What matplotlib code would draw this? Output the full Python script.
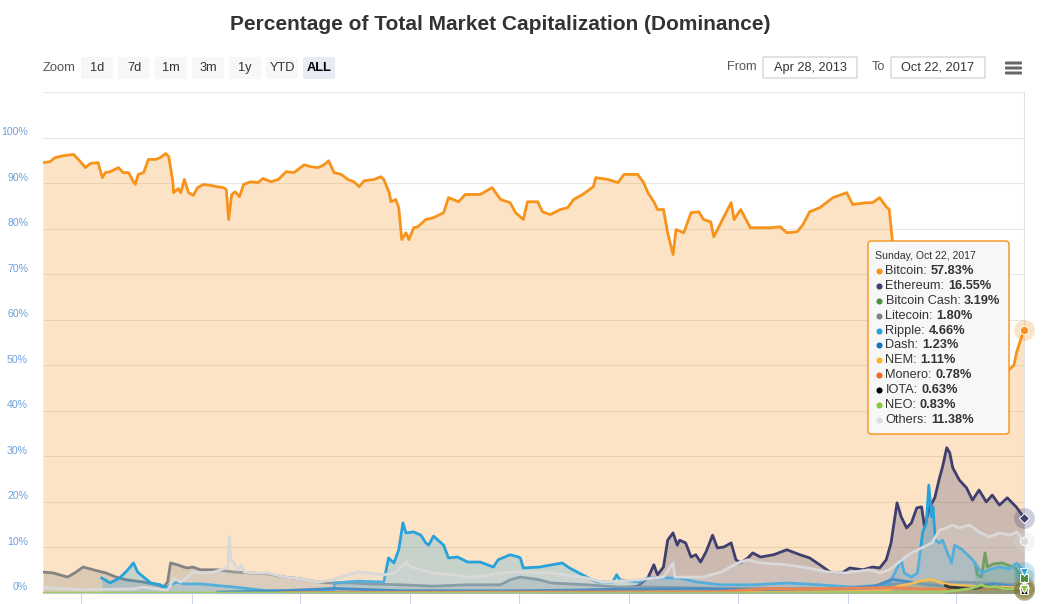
import matplotlib
matplotlib.use('Agg')
import matplotlib.pyplot as plt
import matplotlib.transforms as mtransforms
from matplotlib.patches import FancyBboxPatch
from matplotlib.lines import Line2D
import pandas as pd

plt.rcParams['font.family'] = ['Liberation Sans', 'DejaVu Sans']

# ---------------- data ----------------
btc_dates = ['2013-04-28', '2013-05-10', '2013-05-18', '2013-06-01', '2013-06-18', '2013-06-26', '2013-07-08',
             '2013-07-16', '2013-07-29', '2013-08-05', '2013-08-10', '2013-08-18', '2013-09-01', '2013-09-09',
             '2013-09-18', '2013-09-24', '2013-09-29', '2013-10-04', '2013-10-13', '2013-10-21', '2013-11-02',
             '2013-11-10', '2013-11-19', '2013-11-24', '2013-12-01', '2013-12-02', '2013-12-10', '2013-12-14',
             '2013-12-20', '2013-12-27', '2014-01-04', '2014-01-11', '2014-01-21', '2014-02-02', '2014-02-13',
             '2014-02-23', '2014-02-28', '2014-03-04', '2014-03-09', '2014-03-15', '2014-03-22', '2014-03-29',
             '2014-04-10', '2014-04-22', '2014-04-30', '2014-05-14', '2014-05-26', '2014-06-08', '2014-06-21',
             '2014-07-08', '2014-07-19', '2014-07-31', '2014-08-10', '2014-08-18', '2014-08-27', '2014-09-08',
             '2014-09-19', '2014-09-29', '2014-10-08', '2014-10-16', '2014-11-02', '2014-11-13', '2014-11-18',
             '2014-11-27', '2014-11-30', '2014-12-08', '2014-12-13', '2014-12-18', '2014-12-25', '2014-12-30',
             '2015-01-07', '2015-01-14', '2015-01-27', '2015-02-09', '2015-02-26', '2015-03-06', '2015-03-23',
             '2015-04-03', '2015-04-28', '2015-05-18', '2015-06-01', '2015-06-17', '2015-06-26', '2015-07-09',
             '2015-07-16', '2015-08-02', '2015-08-10', '2015-08-23', '2015-09-09', '2015-09-21', '2015-10-01',
             '2015-10-16', '2015-11-03', '2015-11-07', '2015-11-27', '2015-12-14', '2015-12-24', '2016-01-16',
             '2016-01-26', '2016-02-02', '2016-02-12', '2016-02-18', '2016-02-28', '2016-03-06', '2016-03-15',
             '2016-03-20', '2016-04-02', '2016-04-14', '2016-04-27', '2016-05-05', '2016-05-17', '2016-05-22',
             '2016-06-03', '2016-06-20', '2016-06-25', '2016-07-06', '2016-07-22', '2016-08-08', '2016-08-24',
             '2016-09-10', '2016-09-21', '2016-10-08', '2016-10-18', '2016-10-29', '2016-11-15', '2016-12-07',
             '2016-12-30', '2017-01-09', '2017-02-01', '2017-02-11', '2017-02-23', '2017-03-06', '2017-03-11',
             '2017-03-16', '2017-03-22', '2017-03-30', '2017-04-10', '2017-04-23', '2017-05-01', '2017-05-10',
             '2017-05-17', '2017-05-25', '2017-06-02', '2017-06-12', '2017-06-17', '2017-07-01', '2017-07-09',
             '2017-07-19', '2017-07-28', '2017-08-05', '2017-08-17', '2017-08-25', '2017-09-03', '2017-09-11',
             '2017-09-19', '2017-09-27', '2017-10-05', '2017-10-10', '2017-10-15', '2017-10-22']
btc_vals = [94.5, 94.7, 95.6, 96.0, 96.3, 95.2, 93.4,
            94.3, 94.5, 91.2, 92.3, 92.5, 93.4, 92.3,
            92.3, 90.8, 89.7, 91.9, 92.3, 95.2, 95.2,
            95.6, 96.5, 95.8, 90.1, 87.9, 88.8, 87.9,
            90.8, 87.9, 87.3, 89.0, 89.7, 89.5, 89.2,
            89.0, 88.6, 82.0, 87.5, 88.1, 87.0, 89.7,
            90.3, 90.1, 91.0, 90.3, 90.8, 92.5, 92.3,
            94.0, 93.6, 93.4, 94.0, 94.9, 92.3, 91.9,
            90.8, 90.3, 89.2, 90.5, 90.8, 91.4, 90.8,
            87.9, 85.9, 86.4, 84.6, 77.6, 79.1, 77.6,
            80.2, 80.4, 82.0, 82.4, 83.5, 86.8, 85.9,
            87.5, 87.5, 89.0, 86.4, 85.7, 83.5, 82.0,
            85.9, 85.9, 83.7, 83.1, 84.2, 84.6, 86.4,
            87.5, 89.2, 91.2, 90.8, 90.1, 91.9, 91.9,
            90.1, 87.9, 85.9, 84.2, 84.2, 79.1, 74.3,
            79.8, 79.1, 83.5, 83.7, 82.0, 81.5, 78.2,
            81.3, 85.7, 82.0, 84.2, 80.2, 80.2, 80.2,
            80.4, 79.1, 79.3, 80.9, 83.7, 84.6, 86.8,
            87.9, 85.3, 85.7, 85.7, 86.8, 84.8, 84.2,
            77.6, 70.0, 67.0, 66.0, 62.0, 58.0, 52.0,
            47.0, 46.0, 45.0, 42.0, 39.0, 43.0, 45.0,
            48.0, 50.0, 46.0, 46.0, 44.0, 47.0, 47.0,
            48.0, 49.0, 50.0, 53.0, 55.0, 57.83]

eth_dates = ['2015-08-07', '2015-10-01', '2015-12-01', '2016-01-16', '2016-02-02', '2016-02-12', '2016-02-18',
             '2016-02-28', '2016-03-06', '2016-03-15', '2016-03-22', '2016-03-26', '2016-04-05', '2016-04-14',
             '2016-04-22', '2016-04-30', '2016-05-09', '2016-05-20', '2016-05-28', '2016-06-08', '2016-06-20',
             '2016-06-28', '2016-07-06', '2016-07-18', '2016-07-26', '2016-08-08', '2016-08-30', '2016-09-21',
             '2016-10-13', '2016-10-29', '2016-11-15', '2016-12-02', '2016-12-22', '2017-01-04', '2017-01-26',
             '2017-02-11', '2017-02-23', '2017-03-06', '2017-03-14', '2017-03-19', '2017-03-24', '2017-03-31',
             '2017-04-09', '2017-04-17', '2017-04-26', '2017-05-04', '2017-05-09', '2017-05-17', '2017-05-26',
             '2017-06-03', '2017-06-08', '2017-06-15', '2017-06-20', '2017-06-25', '2017-07-06', '2017-07-18',
             '2017-07-28', '2017-08-08', '2017-08-20', '2017-08-30', '2017-09-11', '2017-09-24', '2017-10-09',
             '2017-10-22']
eth_vals = [0.2, 0.5, 0.8, 1.5, 3.3, 6.2, 4.0,
            5.7, 11.6, 13.2, 10.5, 11.6, 11.0, 7.9,
            8.4, 6.8, 9.0, 12.7, 9.9, 10.1, 11.0,
            7.3, 6.6, 7.7, 8.8, 7.9, 8.4, 9.5,
            8.4, 7.7, 6.2, 4.6, 4.4, 5.5, 5.1,
            5.7, 5.5, 7.3, 11.0, 15.4, 19.8, 16.7,
            14.3, 15.4, 18.7, 18.9, 14.5, 18.7, 20.9,
            25.3, 27.7, 31.9, 30.8, 27.5, 24.8, 23.1,
            20.4, 22.6, 20.0, 21.5, 19.3, 20.9, 18.9,
            16.55]

bch_dates = ['2017-08-01', '2017-08-05', '2017-08-12', '2017-08-18', '2017-08-22', '2017-09-01', '2017-09-15',
             '2017-09-28', '2017-10-08', '2017-10-15', '2017-10-22']
bch_vals = [6.6, 4.0, 3.5, 8.8, 5.7, 6.4, 6.6, 6.0, 5.5, 3.8, 3.19]

ltc_dates = ['2013-04-28', '2013-05-15', '2013-06-08', '2013-06-20', '2013-07-04', '2013-07-21', '2013-08-11',
             '2013-08-28', '2013-09-14', '2013-10-13', '2013-11-05', '2013-11-15', '2013-11-22', '2013-11-27',
             '2013-12-08', '2013-12-19', '2013-12-25', '2014-01-03', '2014-01-16', '2014-02-13', '2014-03-13',
             '2014-04-11', '2014-05-09', '2014-06-05', '2014-07-03', '2014-07-31', '2014-08-21', '2014-09-25',
             '2014-10-23', '2014-12-17', '2015-02-09', '2015-04-07', '2015-06-01', '2015-06-17', '2015-07-04',
             '2015-08-05', '2015-08-25', '2015-10-23', '2015-12-17', '2016-02-12', '2016-06-01', '2016-09-21',
             '2017-01-09', '2017-03-06', '2017-04-21', '2017-06-25', '2017-08-20', '2017-10-22']
ltc_vals = [4.6, 4.4, 3.5, 4.4, 5.7, 5.1, 4.4,
            3.5, 2.9, 2.4, 1.8, 1.3, 2.4, 6.6,
            6.2, 5.7, 5.5, 5.7, 5.1, 5.1, 4.6,
            4.4, 4.2, 3.5, 3.1, 2.4, 2.2, 2.2,
            2.0, 1.8, 1.5, 1.8, 1.8, 2.9, 3.5,
            2.9, 2.2, 1.8, 1.3, 1.3, 1.0, 1.0,
            1.1, 1.8, 2.2, 2.4, 2.2, 1.80]

xrp_dates = ['2013-08-04', '2013-08-18', '2013-09-03', '2013-09-16', '2013-09-26', '2013-10-03', '2013-10-13',
             '2013-10-25', '2013-11-10', '2013-11-19', '2013-11-27', '2013-12-08', '2013-12-19', '2014-01-16',
             '2014-03-13', '2014-05-08', '2014-08-26', '2014-08-28', '2014-10-06', '2014-11-18', '2014-11-26',
             '2014-12-05', '2014-12-13', '2014-12-20', '2014-12-25', '2015-01-07', '2015-01-19', '2015-01-27',
             '2015-02-01', '2015-02-09', '2015-02-26', '2015-03-06', '2015-03-21', '2015-04-07', '2015-04-28',
             '2015-05-20', '2015-05-28', '2015-06-17', '2015-07-01', '2015-07-04', '2015-07-09', '2015-08-05',
             '2015-09-12', '2015-09-24', '2015-10-23', '2015-11-09', '2015-12-05', '2015-12-12', '2015-12-17',
             '2016-01-16', '2016-02-02', '2016-03-25', '2016-04-24', '2016-06-03', '2016-07-29', '2016-09-21',
             '2016-11-15', '2017-01-09', '2017-03-06', '2017-03-16', '2017-03-31', '2017-04-05', '2017-04-17',
             '2017-04-27', '2017-05-06', '2017-05-12', '2017-05-16', '2017-05-21', '2017-05-23', '2017-05-27',
             '2017-06-03', '2017-06-08', '2017-06-23', '2017-06-28', '2017-07-11', '2017-07-28', '2017-08-12',
             '2017-08-25', '2017-09-11', '2017-09-28', '2017-10-10', '2017-10-22']
xrp_vals = [3.3, 2.2, 3.3, 5.0, 6.6, 4.6, 3.5,
            2.2, 1.8, 1.1, 1.8, 2.4, 2.0, 2.0,
            1.3, 0.5, 0.4, 2.2, 2.6, 2.4, 7.7,
            6.6, 9.5, 15.4, 13.2, 13.4, 12.7, 11.0,
            10.5, 12.5, 10.5, 7.7, 7.9, 6.8, 6.8,
            5.7, 7.3, 8.4, 7.9, 7.7, 5.5, 5.7,
            6.6, 5.5, 3.5, 2.4, 2.4, 4.0, 2.9,
            2.4, 3.3, 3.3, 2.4, 1.8, 1.8, 2.2,
            1.8, 1.3, 1.8, 3.3, 7.3, 4.4, 3.5,
            4.4, 13.4, 15.4, 23.7, 16.7, 18.9, 11.6,
            11.0, 11.6, 6.6, 10.5, 9.5, 7.3, 4.4,
            5.1, 5.7, 5.3, 6.6, 4.66]

dash_dates = ['2014-02-14', '2014-06-01', '2014-08-28', '2014-12-15', '2015-07-01', '2016-01-15', '2016-04-15',
              '2016-07-15', '2016-12-15', '2017-02-15', '2017-03-16', '2017-04-10', '2017-05-15', '2017-06-15',
              '2017-08-01', '2017-09-01', '2017-10-22']
dash_vals = [0.2, 0.5, 1.0, 0.5, 0.5, 0.8, 1.0, 0.7, 0.8, 1.5, 3.0, 2.5, 1.8, 1.5, 1.5, 2.0, 1.23]

nem_dates = ['2015-04-01', '2016-06-01', '2016-12-30', '2017-03-06', '2017-03-25', '2017-04-15', '2017-05-01',
             '2017-05-20', '2017-06-03', '2017-06-20', '2017-07-15', '2017-08-20', '2017-09-20', '2017-10-22']
nem_vals = [0.05, 0.1, 0.3, 0.5, 1.5, 2.0, 2.6, 3.0, 2.4, 1.8, 1.6, 1.3, 1.3, 1.11]

xmr_dates = ['2014-06-01', '2016-06-01', '2016-08-24', '2016-10-01', '2016-12-15', '2017-02-01', '2017-03-16',
             '2017-05-01', '2017-06-15', '2017-08-01', '2017-09-01', '2017-10-22']
xmr_vals = [0.1, 0.3, 1.0, 0.9, 1.0, 1.1, 1.2, 0.9, 0.8, 0.9, 1.0, 0.78]

iota_dates = ['2017-06-13', '2017-06-20', '2017-07-10', '2017-08-01', '2017-08-10', '2017-08-16', '2017-08-25',
              '2017-09-05', '2017-09-20', '2017-10-05', '2017-10-22']
iota_vals = [1.6, 1.3, 1.1, 1.0, 1.2, 1.6, 1.4, 1.2, 0.9, 0.8, 0.63]

neo_dates = ['2013-04-28', '2016-09-09', '2017-01-01', '2017-06-01', '2017-07-05', '2017-07-25', '2017-08-12',
             '2017-08-20', '2017-09-05', '2017-09-20', '2017-10-22']
neo_vals = [0.0, 0.0, 0.1, 0.2, 0.6, 1.0, 1.8, 1.4, 1.3, 0.9, 0.83]

oth_dates = ['2013-04-28', '2013-05-15', '2013-07-04', '2013-09-26', '2013-10-13', '2013-11-15', '2013-11-22',
             '2013-11-27', '2013-12-02', '2013-12-14', '2013-12-25', '2014-01-03', '2014-01-16', '2014-02-07',
             '2014-02-19', '2014-03-03', '2014-03-05', '2014-03-08', '2014-03-13', '2014-03-20', '2014-03-25',
             '2014-03-30', '2014-04-16', '2014-05-09', '2014-06-05', '2014-07-03', '2014-07-31', '2014-08-26',
             '2014-09-11', '2014-10-06', '2014-10-23', '2014-11-18', '2014-12-05', '2014-12-17', '2014-12-25',
             '2015-01-02', '2015-01-19', '2015-02-09', '2015-03-10', '2015-04-07', '2015-05-04', '2015-06-01',
             '2015-06-22', '2015-07-04', '2015-08-25', '2015-10-23', '2015-11-19', '2016-01-16', '2016-02-28',
             '2016-03-15', '2016-03-18', '2016-05-05', '2016-06-03', '2016-07-01', '2016-07-18', '2016-08-08',
             '2016-09-21', '2016-10-26', '2016-11-29', '2016-12-29', '2017-02-06', '2017-02-23', '2017-03-11',
             '2017-04-01', '2017-04-17', '2017-05-04', '2017-05-21', '2017-06-03', '2017-06-15', '2017-06-25',
             '2017-07-06', '2017-07-23', '2017-08-08', '2017-08-25', '2017-09-11', '2017-09-28', '2017-10-10',
             '2017-10-22']
oth_vals = [1.3, 1.1, 0.7, 0.9, 1.3, 0.7, 0.7,
            1.8, 3.3, 2.4, 3.5, 4.6, 4.4, 4.6,
            5.1, 5.7, 12.3, 7.3, 6.6, 5.1, 6.2,
            4.6, 4.4, 4.4, 3.5, 3.1, 2.4, 2.9,
            3.7, 4.6, 4.4, 4.0, 4.4, 5.7, 6.8,
            5.7, 5.1, 4.4, 4.0, 3.5, 3.7, 4.4,
            4.6, 4.6, 4.4, 3.3, 2.4, 2.9, 3.5,
            6.6, 3.5, 3.5, 4.6, 6.6, 7.3, 6.6,
            6.2, 5.5, 4.6, 4.4, 5.1, 4.4, 5.1,
            7.3, 8.8, 9.9, 11.0, 13.8, 14.3, 14.9,
            14.3, 14.9, 13.4, 12.3, 13.2, 12.7, 13.4,
            11.38]

series_names = ['Bitcoin', 'Ethereum', 'Bitcoin Cash', 'Litecoin', 'Ripple', 'Dash', 'NEM', 'Monero', 'IOTA',
                'NEO', 'Others']
series_dates = [btc_dates, eth_dates, bch_dates, ltc_dates, xrp_dates, dash_dates, nem_dates, xmr_dates,
                iota_dates, neo_dates, oth_dates]
series_vals = [btc_vals, eth_vals, bch_vals, ltc_vals, xrp_vals, dash_vals, nem_vals, xmr_vals, iota_vals,
               neo_vals, oth_vals]
series_colors = ['#f7931a', '#3e3f6e', '#4c8f3c', '#838383', '#27a2db', '#1c75bc', '#fbb42c', '#f26822',
                 '#000000', '#8cc63f', '#d9d9d9']
series_markers = ['o', 'D', 's', '^', 'v', 'o', 'D', 's', '^', 'v', 'o']
tooltip_vals = ['57.83%', '16.55%', '3.19%', '1.80%', '4.66%', '1.23%', '1.11%', '0.78%', '0.63%', '0.83%',
                '11.38%']
tooltip_title = 'Sunday, Oct 22, 2017'
y_ticks = [0, 10, 20, 30, 40, 50, 60, 70, 80, 90, 100]
x_tick_dates = ['2013-07-01', '2014-01-01', '2014-07-01', '2015-01-01', '2015-07-01', '2016-01-01',
                '2016-07-01', '2017-01-01', '2017-07-01']
zoom_buttons = ['1d', '7d', '1m', '3m', '1y', 'YTD', 'ALL']

# ---------------- figure ----------------
W, H = 1041, 604
fig = plt.figure(figsize=(W / 100, H / 100), dpi=100)
fig.patch.set_facecolor('white')


def fx(x):
    return x / W


def fy(y):
    return 1 - y / H


PIX = mtransforms.IdentityTransform()


def pbox(x0, y0, x1, y1, fc, ec='none', lw=0.0, r=2.0, z=5, alpha=1.0):
    p = FancyBboxPatch((x0, H - y1), x1 - x0, y1 - y0, boxstyle=f'round,pad=0,rounding_size={r}',
                       transform=PIX, facecolor=fc, edgecolor=ec, linewidth=lw, zorder=z, alpha=alpha)
    fig.add_artist(p)
    return p


ax = fig.add_axes([fx(43), fy(593), (1024 - 43) / W, (593 - 92) / H])
ax.set_xlim(pd.Timestamp('2013-04-28'), pd.Timestamp('2017-10-22'))
ax.set_ylim(0, 110)

for i, (d, v, c) in enumerate(zip(series_dates, series_vals, series_colors)):
    dd = pd.to_datetime(d)
    ax.fill_between(dd, 0, v, color=c, alpha=0.25, linewidth=0, zorder=2 + 2 * i)
    ax.plot(dd, v, color=c, lw=2.0, solid_joinstyle='round', zorder=3 + 2 * i)

# hover markers at the last point
for i, (d, v, c, m) in enumerate(zip(series_dates, series_vals, series_colors, series_markers)):
    xd = pd.Timestamp(d[-1])
    ax.plot([xd], [v[-1]], marker='o', ms=15, color=c, alpha=0.25, mew=0, clip_on=False, zorder=40 + i)
    ax.plot([xd], [v[-1]], marker=m, ms=5.5 if m != 'o' else 6, color=c, mec='white', mew=0.7,
            clip_on=False, zorder=60 + i)

# grid / axes
ax.set_yticks(list(range(0, 111, 10)))
ax.yaxis.grid(True, color='#e6e6e6', lw=0.75)
ax.set_axisbelow(True)
ax.tick_params(axis='y', length=0, labelleft=False)
ax.set_xticks(pd.to_datetime(x_tick_dates))
ax.tick_params(axis='x', direction='out', length=8, width=0.75, color='#ccd6eb', labelbottom=False)
for s in ['left', 'top']:
    ax.spines[s].set_visible(False)
ax.spines['right'].set_color('#e0e0e0')
ax.spines['right'].set_linewidth(0.75)
ax.spines['bottom'].set_color('#ccd6eb')
ax.spines['bottom'].set_linewidth(0.75)
ax.patch.set_alpha(0)

ytrans = mtransforms.blended_transform_factory(fig.transFigure, ax.transData) + \
    mtransforms.ScaledTranslation(0, 5.5 / 100, fig.dpi_scale_trans)
for v in y_ticks:
    ax.text(fx(28), v, f'{v}%', transform=ytrans, ha='right', va='center', fontsize=7.6, color='#6fa0dc')

# title
fig.text(fx(500), fy(25), 'Percentage of Total Market Capitalization (Dominance)', ha='center', va='center',
         fontsize=15, color='#333333', weight='bold')

# range selector
fig.text(fx(43), fy(68), 'Zoom', ha='left', va='center', fontsize=9.4, color='#555555')
for k, lab in enumerate(zoom_buttons):
    x0 = 81 + k * 37
    sel = lab == 'ALL'
    pbox(x0, 57, x0 + 32, 79, '#e6ebf5' if sel else '#f7f7f7', r=2)
    fig.text(fx(x0 + 16), fy(68), lab, ha='center', va='center', fontsize=9.2,
             color='#000000' if sel else '#333333', weight='bold' if sel else 'normal', zorder=6)

fig.text(fx(757), fy(67.5), 'From', ha='right', va='center', fontsize=9.2, color='#555555')
pbox(763, 57, 857, 78, 'white', ec='#cccccc', lw=0.8, r=0)
fig.text(fx(810), fy(67.5), 'Apr 28, 2013', ha='center', va='center', fontsize=9.2, color='#333333', zorder=6)
fig.text(fx(885), fy(67.5), 'To', ha='right', va='center', fontsize=9.2, color='#555555')
pbox(891, 57, 985, 78, 'white', ec='#cccccc', lw=0.8, r=0)
fig.text(fx(938), fy(67.5), 'Oct 22, 2017', ha='center', va='center', fontsize=9.2, color='#333333', zorder=6)
for yy in (63, 68, 73):
    pbox(1005, yy - 1.5, 1022, yy + 1.5, '#666666', r=1)

# tooltip
pbox(869, 242, 1010, 435, '#000000', r=3, z=20, alpha=0.06)
pbox(868, 241, 1009, 434, (0.97, 0.97, 0.97, 0.86), ec='#f7931a', lw=1.0, r=3, z=21)
fig.text(fx(875), fy(256), tooltip_title, ha='left', va='center', fontsize=7.6, color='#333333', zorder=22)
fig.canvas.draw()
rend = fig.canvas.get_renderer()
for i, (nm, val, c) in enumerate(zip(series_names, tooltip_vals, series_colors)):
    yy = 271 + i * 14.9
    fig.add_artist(Line2D([fx(878.5)], [fy(yy)], marker='o', ms=4.4, color=c if nm != 'Others' else '#dddddd',
                          mew=0, transform=fig.transFigure, zorder=22))
    t = fig.text(fx(885.5), fy(yy), f'{nm}:', ha='left', va='center', fontsize=9.2, color='#333333', zorder=22)
    bb = t.get_window_extent(renderer=rend)
    fig.text((bb.x1 + 3.5) / W, fy(yy), val, ha='left', va='center', fontsize=9.2, color='#333333',
             weight='bold', zorder=22)

fig.savefig('out.png', dpi=100, facecolor='white')
